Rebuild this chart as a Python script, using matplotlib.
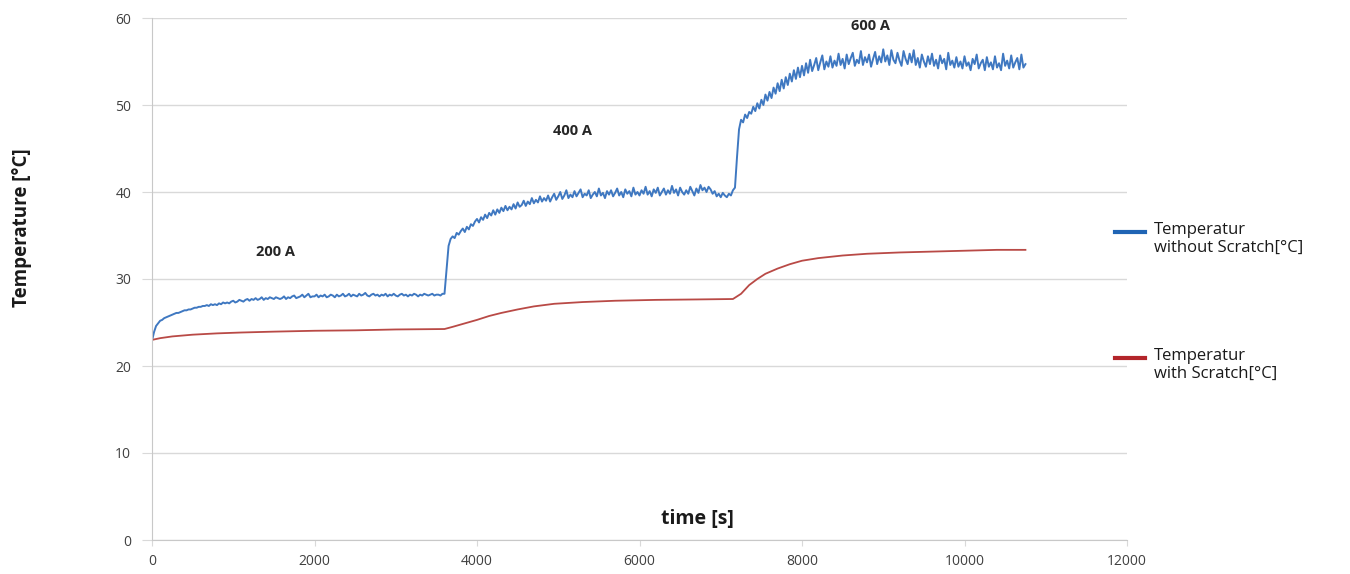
import numpy as np
import matplotlib.pyplot as plt
from matplotlib.lines import Line2D

temp_without = [
    # 200 A
    22.9, 23.9, 24.6, 24.9, 25.2, 25.3, 25.5, 25.6, 25.7, 25.8, 25.9, 26.0, 26.1, 26.1, 26.2, 26.3,
    26.4, 26.4, 26.5, 26.5, 26.6, 26.7, 26.7, 26.8, 26.8, 26.9, 26.9, 27.0, 26.9, 27.1, 27.0, 27.1,
    27.0, 27.2, 27.1, 27.3, 27.2, 27.3, 27.2, 27.4, 27.5, 27.3, 27.4, 27.6, 27.5, 27.4, 27.6, 27.7,
    27.5, 27.7, 27.6, 27.8, 27.6, 27.7, 27.9, 27.6, 27.8, 27.7, 27.9, 27.8, 27.7, 27.9, 27.8, 27.7,
    27.8, 28.0, 27.7, 27.9, 27.8, 28.0, 28.1, 27.8, 27.9, 28.0, 28.2, 27.9, 28.1, 28.3, 27.9, 28.0,
    28.0, 28.2, 27.9, 28.1, 28.0, 28.2, 27.9, 28.0, 28.2, 28.1, 27.9, 28.2, 28.0, 28.1, 28.3, 28.0,
    28.1, 28.3, 28.0, 28.2, 28.1, 28.0, 28.3, 28.1, 28.2, 28.4, 28.1, 28.0, 28.2, 28.3, 28.1, 28.2,
    28.0, 28.2, 28.1, 28.3, 28.0, 28.2, 28.1, 28.3, 28.1, 28.0, 28.2, 28.3, 28.1, 28.2, 28.0, 28.2,
    28.1, 28.3, 28.2, 28.0, 28.2, 28.1, 28.3, 28.2, 28.1, 28.2, 28.3, 28.1, 28.2, 28.2, 28.1, 28.3,
    28.3,
    # 400 A
    31.0, 33.8, 34.6, 34.9, 34.7, 35.3, 35.1, 35.5, 35.8, 35.4, 36.0, 35.7, 36.3, 36.1, 36.6, 36.9,
    36.5, 37.1, 36.8, 37.4, 37.0, 37.6, 37.3, 37.9, 37.4, 38.0, 37.6, 38.2, 37.8, 38.4, 37.9, 38.3,
    38.0, 38.6, 38.1, 38.8, 38.3, 38.5, 39.0, 38.4, 38.9, 38.6, 39.3, 38.7, 39.1, 38.8, 39.5, 38.9,
    39.3, 39.0, 39.6, 38.9, 39.4, 39.8, 39.1, 39.5, 40.0, 39.2, 39.6, 40.2, 39.3, 39.7, 39.4, 40.1,
    39.5, 39.9, 40.3, 39.4, 39.8, 39.6, 40.2, 39.3, 39.7, 40.0, 39.5, 40.4, 39.6, 39.9, 39.3, 40.1,
    39.7, 40.2, 39.5, 39.9, 40.4, 39.6, 40.0, 39.4, 40.3, 39.8, 40.1, 39.5, 40.5, 39.7, 40.0, 39.6,
    40.2, 39.8, 40.6, 39.7, 40.1, 39.5, 40.3, 39.9, 40.5, 39.6, 40.0, 40.4, 39.7, 40.2, 39.8, 40.7,
    39.9, 40.3, 39.6, 40.5, 40.0, 39.7, 40.2, 39.8, 40.6, 40.1, 39.6, 40.4, 39.9, 40.8, 40.2, 40.5,
    40.0, 40.6, 40.3, 39.8, 40.1, 39.5, 39.8, 39.4, 39.9, 39.6, 39.4, 39.8, 39.6, 40.2, 40.5,
    # 600 A
    44.0, 47.2, 48.3, 48.0, 48.9, 48.5, 49.2, 49.0, 49.8, 49.3, 50.2, 49.6, 50.6, 50.0, 51.2, 50.5,
    51.5, 50.8, 52.0, 51.3, 52.5, 51.6, 52.9, 51.9, 53.2, 52.3, 53.6, 52.7, 54.0, 53.0, 54.3, 53.2,
    54.5, 53.4, 54.8, 53.7, 55.2, 53.9, 54.6, 55.4, 54.0, 54.9, 55.7, 54.1, 55.0, 54.4, 55.6, 54.3,
    55.1, 54.5, 55.9, 54.6, 55.3, 54.2, 55.8, 54.7, 55.4, 56.0, 54.5, 55.2, 54.8, 56.2, 54.6, 55.5,
    54.9, 55.8, 54.4, 55.3, 56.1, 54.7, 55.6, 54.9, 56.4, 55.0, 55.7, 54.6, 56.3, 55.2, 54.8, 56.0,
    55.1, 54.5, 56.2, 55.3, 54.7, 55.9, 54.9, 56.3, 54.6, 55.4, 54.3, 55.8, 55.0, 54.4, 55.6, 54.7,
    55.9, 54.5, 55.2, 54.2, 55.7, 54.8, 55.3, 54.1, 56.0, 54.6, 55.1, 54.3, 55.5, 54.4, 55.0, 54.2,
    55.6, 54.5, 54.9, 54.0, 55.3, 54.7, 55.8, 54.2, 54.8, 55.2, 54.0, 55.5, 54.4, 54.9, 54.1, 55.6,
    54.3, 54.8, 54.0, 55.9, 54.5, 55.1, 54.2, 55.7, 54.3, 54.9, 55.4, 54.1, 55.8, 54.3, 54.7,
]
time_without = np.arange(len(temp_without)) * 25

time_with = [0, 100, 250, 500, 800, 1100, 1500, 2000, 2500, 3000, 3600, 3700, 3850, 4000, 4150,
             4300, 4500, 4700, 4950, 5300, 5700, 6200, 6700, 7150, 7250, 7350, 7450, 7550, 7700,
             7850, 8000, 8200, 8500, 8800, 9200, 9600, 10000, 10400, 10750]
temp_with = [23.0, 23.2, 23.4, 23.6, 23.75, 23.85, 23.95, 24.05, 24.1, 24.2, 24.25, 24.5, 24.9,
             25.3, 25.75, 26.1, 26.5, 26.85, 27.15, 27.35, 27.5, 27.6, 27.65, 27.7, 28.3, 29.3,
             30.0, 30.6, 31.2, 31.7, 32.1, 32.4, 32.7, 32.9, 33.05, 33.15, 33.25, 33.35, 33.35]

labels = ["200 A", "400 A", "600 A"]
label_pos = [(1520, 33.1), (5180, 47.0), (8840, 59.1)]

W, H = 1350, 574
fig = plt.figure(figsize=(13.5, 5.74), dpi=100)
ax = fig.add_axes([152 / W, 1 - 540 / H, (1127 - 152) / W, (540 - 18) / H])

ax.plot(time_without, temp_without, color='#3f78c1', lw=1.4)
ax.plot(time_with, temp_with, color='#b94a46', lw=1.3)

ax.set_xlim(0, 12000)
ax.set_ylim(0, 60)
ax.set_xticks(np.arange(0, 12001, 2000))
ax.set_yticks(np.arange(0, 61, 10))
ax.grid(axis='y', color='#d9d9d9', lw=1)
ax.set_axisbelow(True)
for s in ['top', 'right']:
    ax.spines[s].set_visible(False)
ax.spines['left'].set_color('#c8c8c8')
ax.spines['bottom'].set_color('#c8c8c8')
ax.tick_params(axis='y', length=7, color='#d9d9d9', labelsize=10, labelcolor='#404040', pad=8)
ax.tick_params(axis='x', length=4, color='#d9d9d9', labelsize=10, labelcolor='#404040', pad=6)
for lab in ax.get_xticklabels() + ax.get_yticklabels():
    lab.set_family('Open Sans')

for txt, (x, y) in zip(labels, label_pos):
    ax.text(x, y, txt, ha='center', va='center', fontsize=10.5, fontweight='bold',
            color='#262626', family='Open Sans')

fig.text(697 / W, 1 - 519 / H, "time [s]", ha='center', va='center', fontsize=14,
         fontweight='bold', family='Open Sans', color='#1a1a1a')
fig.text(22 / W, 1 - 228 / H, "Temperature [°C]", rotation=90, ha='center', va='center',
         fontsize=13.5, fontweight='bold', family='Open Sans', color='#1a1a1a')

# legend drawn by hand to keep the wide spacing
legend = [("Temperatur\nwithout Scratch[°C]", '#1f64b4', 232),
          ("Temperatur\nwith Scratch[°C]", '#b3252a', 358)]
for txt, col, ypix in legend:
    fig.add_artist(Line2D([1115 / W, 1145 / W], [1 - ypix / H] * 2, color=col, lw=3))
    fig.text(1154 / W, 1 - (ypix - 10) / H, txt, ha='left', va='top', fontsize=12,
             family='Open Sans', color='#1a1a1a', linespacing=1.15)

plt.savefig("out.png", dpi=100)
